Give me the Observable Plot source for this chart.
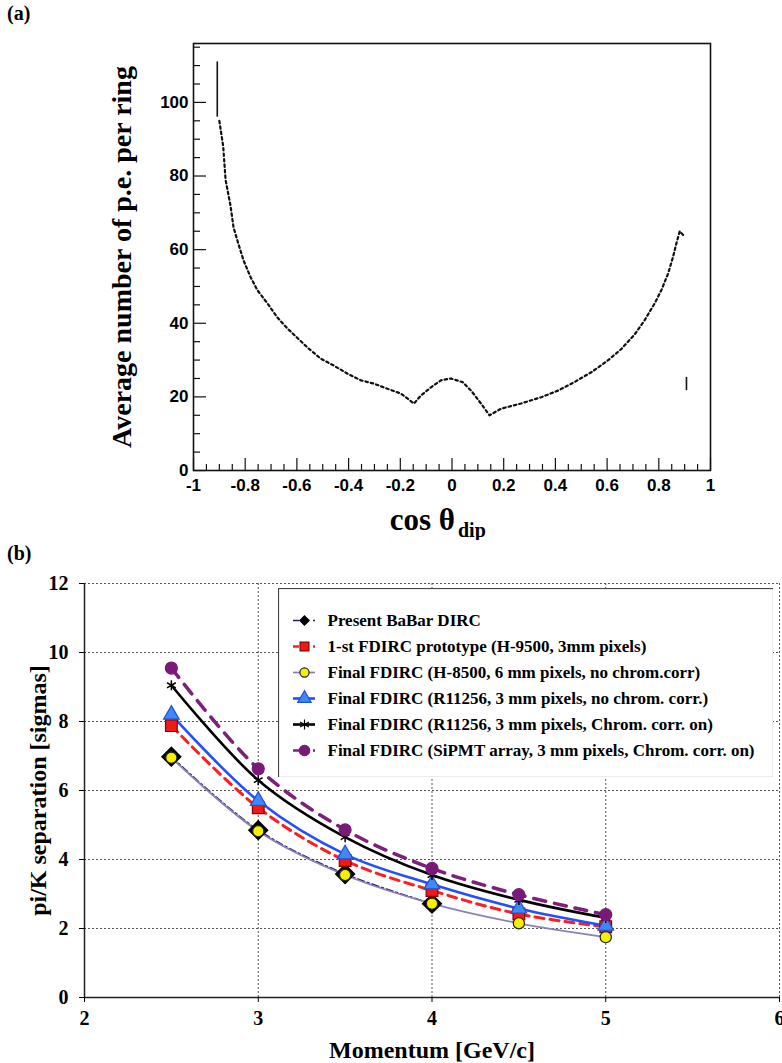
<!DOCTYPE html>
<html><head><meta charset="utf-8">
<script src="https://cdn.jsdelivr.net/npm/d3@7"></script>
<script src="https://cdn.jsdelivr.net/npm/@observablehq/plot@0.6"></script>
<style>
html,body{margin:0;padding:0;background:#fff;}
#wrap{position:relative;width:782px;height:1063px;overflow:hidden;}
.lbl{position:absolute;font-family:"Liberation Serif",serif;font-weight:bold;font-size:20px;line-height:20px;color:#000;}
#pa{position:absolute;left:0;top:0;}
#pb{position:absolute;left:0;top:540px;}
#leg{position:absolute;left:278px;top:588px;}
</style></head><body>
<div id="wrap">
<div id="pa"></div><div id="pb"></div><div id="leg"></div>
<div class="lbl" style="left:7px;top:3px">(a)</div>
<div class="lbl" style="left:7px;top:543px">(b)</div>
</div>
<script>
// ---------- Panel (a) data ----------
const cosTheta = [-0.9,-0.885,-0.876,-0.857,-0.845,-0.826,-0.806,-0.779,-0.753,-0.714,-0.676,-0.637,-0.598,-0.559,-0.508,-0.457,-0.404,-0.353,-0.302,-0.25,-0.198,-0.147,-0.12,-0.081,-0.043,-0.004,0.041,0.074,0.112,0.145,0.19,0.267,0.345,0.41,0.473,0.539,0.603,0.655,0.707,0.745,0.784,0.81,0.836,0.855,0.868,0.881,0.894];
const avgPE    = [95,88,79,72,66,61.5,57,52.5,49,45.4,41.6,38.6,36,33.4,30.4,28.5,26.3,24.5,23.6,22.2,20.9,18.2,20.4,22.6,24.5,25,24,21.7,18.2,15,16.8,18.2,19.9,21.7,24,26.7,29.9,33,37,40.8,45.4,49,53.5,58,61.7,65,64];
const errCos = [-0.908, 0.907];
const errLo  = [96, 21.7];
const errHi  = [111, 25.3];
const aYMajor = [0,20,40,60,80,100];
const aYMinor = [5,10,15,25,30,35,45,50,55,65,70,75,85,90,95,105,110,115];
const aXMajor = [-1,-0.8,-0.6,-0.4,-0.2,0,0.2,0.4,0.6,0.8,1];
const aXMinor = [-0.95,-0.9,-0.85,-0.75,-0.7,-0.65,-0.55,-0.5,-0.45,-0.35,-0.3,-0.25,-0.15,-0.1,-0.05,0.05,0.1,0.15,0.25,0.3,0.35,0.45,0.5,0.55,0.65,0.7,0.75,0.85,0.9,0.95];

// ---------- Panel (b) data ----------
const momentum = [2.5,3,3.5,4,4.5,5];
const seriesNames = [
  "Present BaBar DIRC",
  "1-st FDIRC prototype (H-9500, 3mm pixels)",
  "Final FDIRC (H-8500, 6 mm pixels, no chrom.corr)",
  "Final FDIRC (R11256, 3 mm pixels, no chrom. corr.)",
  "Final FDIRC (R11256, 3 mm pixels, Chrom. corr. on)",
  "Final FDIRC (SiPMT array, 3 mm pixels, Chrom. corr. on)"
];
const babar      = [6.98,4.85,3.58,2.72];
const proto1     = [7.88,5.5,3.97,3.1,2.42,2.05];
const h8500      = [6.95,4.82,3.55,2.72,2.15,1.75];
const r11256     = [8.2,5.7,4.15,3.28,2.58,2.08];
const r11256chr  = [9.05,6.3,4.65,3.55,2.83,2.31];
const sipmt      = [9.55,6.63,4.86,3.74,2.98,2.4];
const bYTicks = [0,2,4,6,8,10,12];
const bXTicks = [2,3,4,5,6];

// ---------- styles ----------
const seriesStyles = [
  {stroke:"#1c1c78", width:1.6, dash:"7,3,2,3", symbol:"diamond2", fill:"#000", mstroke:"#000", r:8.6, lr:4.2},
  {stroke:"#ff1e1e", width:3, dash:"9,6", symbol:"square", fill:"#ee1a1a", mstroke:"#8a0000", r:6.6, lr:5},
  {stroke:"#8c80b8", width:1.8, dash:null, symbol:"circle", fill:"#f5f000", mstroke:"#222", r:5.6, lr:4.6},
  {stroke:"#2150ff", width:2.6, dash:null, symbol:"triangle", fill:"#3d8af5", mstroke:"#1f50dd", r:5.8, lr:5},
  {stroke:"#000", width:2.6, dash:null, symbol:"asterisk", fill:"none", mstroke:"#000", r:4.8, lr:4.8},
  {stroke:"#7d1f7b", width:3.5, dash:"12,9", symbol:"circle", fill:"#7a1a78", mstroke:"#7a1a78", r:6, lr:5.2}
];

// ---------- Panel (a) ----------
const W = 782;
const aH = 540, aML = 193, aMR = 72, aMT = 43, aMB = 70;
const aFW = W - aML - aMR, aFH = aH - aMT - aMB;
const curveA = cosTheta.map((c,i) => ({c, n: avgPE[i]}));
const errA = errCos.map((c,i) => ({c, lo: errLo[i], hi: errHi[i]}));
const sans = {fontFamily:"Liberation Sans, Arial, sans-serif", fontWeight:"bold", fontSize:17};
const serif = "Liberation Serif, Times New Roman, serif";

const chartA = Plot.plot({
  width: W, height: aH, marginLeft: aML, marginRight: aMR, marginTop: aMT, marginBottom: aMB,
  x: {domain: [-1, 1]}, y: {domain: [0, 116]},
  style: {background: "transparent", color: "#000"},
  marks: [
    Plot.tickY(aYMinor, {y: d => d, insetRight: aFW - 7, stroke: "#111", strokeWidth: 1.2}),
    Plot.tickY(aYMajor, {y: d => d, insetRight: aFW - 13, stroke: "#111", strokeWidth: 1.2}),
    Plot.tickX(aXMinor, {x: d => d, insetTop: aFH - 6, stroke: "#111", strokeWidth: 1.2}),
    Plot.tickX(aXMajor, {x: d => d, insetTop: aFH - 12, stroke: "#111", strokeWidth: 1.2}),
    Plot.frame({stroke: "#111", strokeWidth: 1.6}),
    Plot.axisY({ticks: aYMajor, tickSize: 0, tickPadding: 5, label: null, ...sans}),
    Plot.axisX({ticks: aXMajor, tickSize: 0, tickPadding: 8, label: null, tickFormat: d => String(d), ...sans}),
    Plot.line(curveA, {x: "c", y: "n", stroke: "#111", strokeWidth: 2.2, strokeDasharray: "2.5,3"}),
    Plot.ruleX(errA, {x: "c", y1: "lo", y2: "hi", stroke: "#111", strokeWidth: 1.6}),
    Plot.text(["Average number of p.e. per ring"], {frameAnchor: "left", dx: -71, rotate: -90, textAnchor: "middle", lineAnchor: "middle", text: d => d, fontSize: 28, fontWeight: "bold", fontFamily: serif}),
    Plot.text(["cos θ"], {frameAnchor: "bottom", dx: 3, dy: 50, textAnchor: "end", lineAnchor: "middle", text: d => d, fontSize: 31, fontWeight: "bold", fontFamily: serif}),
    Plot.text(["dip"], {frameAnchor: "bottom", dx: 6, dy: 60, textAnchor: "start", lineAnchor: "middle", text: d => d, fontSize: 20, fontWeight: "bold", fontFamily: serif})
  ]
});
document.getElementById("pa").appendChild(chartA);

// ---------- Panel (b) ----------
const bH = 523, bML = 84, bMR = 3, bMT = 43, bMB = 66;
const allValues = [babar, proto1, h8500, r11256, r11256chr, sipmt];
const rowsB = allValues.map((vals, si) => vals.map((v, i) => ({p: momentum[i], v, s: seriesNames[si]})));
const bText = {fontFamily: serif, fontWeight: "bold", fontSize: 20};

const seriesMarks = [];
rowsB.forEach((rows, si) => {
  const st = seriesStyles[si];
  seriesMarks.push(Plot.line(rows, {x: "p", y: "v", curve: "catmull-rom", stroke: st.stroke, strokeWidth: st.width, strokeDasharray: st.dash}));
});
rowsB.forEach((rows, si) => {
  const st = seriesStyles[si];
  seriesMarks.push(Plot.dot(rows, {x: "p", y: "v", symbol: st.symbol, r: st.r, fill: st.fill, stroke: st.mstroke, strokeWidth: st.symbol === "asterisk" ? 1.5 : 1.2}));
});

const chartB = Plot.plot({
  width: W, height: bH, marginLeft: bML, marginRight: bMR, marginTop: bMT, marginBottom: bMB,
  x: {domain: [2, 6]}, y: {domain: [0, 12]},
  style: {background: "transparent", color: "#000", overflow: "visible"},
  marks: [
    Plot.gridY({ticks: [2,4,6,8,10,12], stroke: "#555", strokeOpacity: 1, strokeDasharray: "2,2"}),
    Plot.gridX({ticks: [3,4,5,6], stroke: "#555", strokeOpacity: 1, strokeDasharray: "2,2"}),
    Plot.ruleX([2], {stroke: "#222", strokeWidth: 1.5}),
    Plot.ruleY([0], {stroke: "#222", strokeWidth: 1.5}),
    Plot.axisY({ticks: bYTicks, tickSize: 5, tickPadding: 11, label: null, tickFormat: d => String(d), ...bText}),
    Plot.axisX({ticks: bXTicks, tickSize: 5, tickPadding: 8, label: null, tickFormat: d => String(d), ...bText}),
    ...seriesMarks,
    Plot.text(["pi/K separation [sigmas]"], {frameAnchor: "left", dx: -46, rotate: -90, textAnchor: "middle", lineAnchor: "middle", text: d => d, fontSize: 24, fontWeight: "bold", fontFamily: serif}),
    Plot.text(["Momentum [GeV/c]"], {frameAnchor: "bottom", dy: 53, textAnchor: "middle", lineAnchor: "middle", text: d => d, fontSize: 24, fontWeight: "bold", fontFamily: serif})
  ]
});
document.getElementById("pb").appendChild(chartB);

// ---------- Legend (b) ----------
const legMarks = [Plot.frame({stroke: "#444", strokeWidth: 1.2})];
seriesNames.forEach((name, si) => {
  const st = seriesStyles[si];
  legMarks.push(Plot.ruleY([name], {y: d => d, x1: 15, x2: 37, stroke: st.stroke, strokeWidth: Math.min(st.width, 2.6), strokeDasharray: st.dash ? "6,4" : null}));
  legMarks.push(Plot.dot([name], {y: d => d, x: 26, symbol: st.symbol, r: st.lr, fill: st.fill, stroke: st.mstroke, strokeWidth: 1.2}));
});
legMarks.push(Plot.text(seriesNames, {y: d => d, x: 49, text: d => d, textAnchor: "start", fontSize: 17, fontWeight: "bold", fontFamily: serif}));
const legend = Plot.plot({
  width: 495, height: 189, margin: 0,
  x: {type: "identity"},
  y: {type: "point", domain: seriesNames, range: [19, 175], axis: null},
  style: {background: "#fff", color: "#000"},
  marks: legMarks
});
document.getElementById("leg").appendChild(legend);
</script>
</body></html>
